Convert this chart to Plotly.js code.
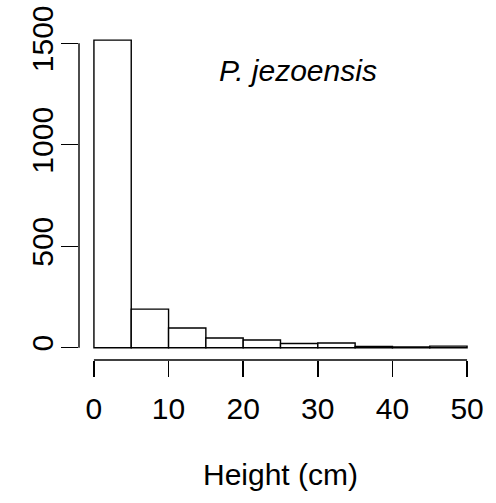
<!DOCTYPE html>
<html>
<head>
<meta charset="utf-8">
<script src="https://cdn.plot.ly/plotly-3.0.1.min.js"></script>
<style>html,body{margin:0;padding:0;background:#fff;}#chart{width:496px;height:503px;}</style>
</head>
<body>
<div id="chart"></div>
<script>
// Histogram of plant height (cm), bins of 5 cm
const binStart = [0, 5, 10, 15, 20, 25, 30, 35, 40, 45];
const binWidth = 5;
const counts = [1516, 190, 97, 48, 38, 21, 23, 6, 4, 8];
const xTicks = [0, 10, 20, 30, 40, 50];
const yTicks = [0, 500, 1000, 1500];
const speciesLabel = "P. jezoensis";
const xTitle = "Height (cm)";

const centers = binStart.map(b => b + binWidth / 2);
const FONT = "Liberation Sans, Arial, Helvetica, sans-serif";

const trace = {
  type: "bar",
  x: centers,
  y: counts,
  width: binStart.map(() => binWidth),
  marker: {color: "#ffffff", line: {color: "#000000", width: 1.4}},
  hoverinfo: "x+y"
};

const layout = {
  width: 496, height: 503,
  margin: {l: 79.4, r: 14.4, t: 27.7, b: 142.7},
  paper_bgcolor: "#ffffff", plot_bgcolor: "#ffffff",
  showlegend: false,
  font: {family: FONT, color: "#000000", size: 30},
  xaxis: {
    range: [-2, 52], showgrid: false, zeroline: false, showline: false,
    tickmode: "array", tickvals: xTicks, ticktext: xTicks.map(String),
    ticks: "outside", ticklen: 16, tickwidth: 1.4, tickcolor: "#000",
    ticklabelstandoff: 6,
    tickfont: {family: FONT, size: 30, color: "#000"},
    title: {text: xTitle, font: {family: FONT, size: 30, color: "#000"}, standoff: 39},
    automargin: false, fixedrange: true
  },
  yaxis: {
    range: [-60.6, 1575.6], showgrid: false, zeroline: false, showline: false,
    tickmode: "array", tickvals: yTicks, ticktext: yTicks.map(String),
    ticks: "outside", ticklen: 17, tickwidth: 1.4, tickcolor: "#000",
    tickangle: -90, ticklabelstandoff: -4,
    tickfont: {family: FONT, size: 30, color: "#000"},
    automargin: false, fixedrange: true
  },
  shapes: [
    {type: "line", xref: "x", yref: "paper", x0: xTicks[0], x1: xTicks[xTicks.length - 1], y0: 0, y1: 0,
     line: {color: "#000", width: 1.4}},
    {type: "line", xref: "paper", yref: "y", x0: 0, x1: 0, y0: yTicks[0], y1: yTicks[yTicks.length - 1],
     line: {color: "#000", width: 1.4}}
  ],
  annotations: [
    {text: "<i>" + speciesLabel + "</i>", xref: "x", yref: "y", x: 27.4, y: 1368,
     showarrow: false, xanchor: "center", yanchor: "middle",
     font: {family: FONT, size: 30, color: "#000"}}
  ]
};

Plotly.newPlot("chart", [trace], layout, {displayModeBar: false, staticPlot: true});
</script>
</body>
</html>
